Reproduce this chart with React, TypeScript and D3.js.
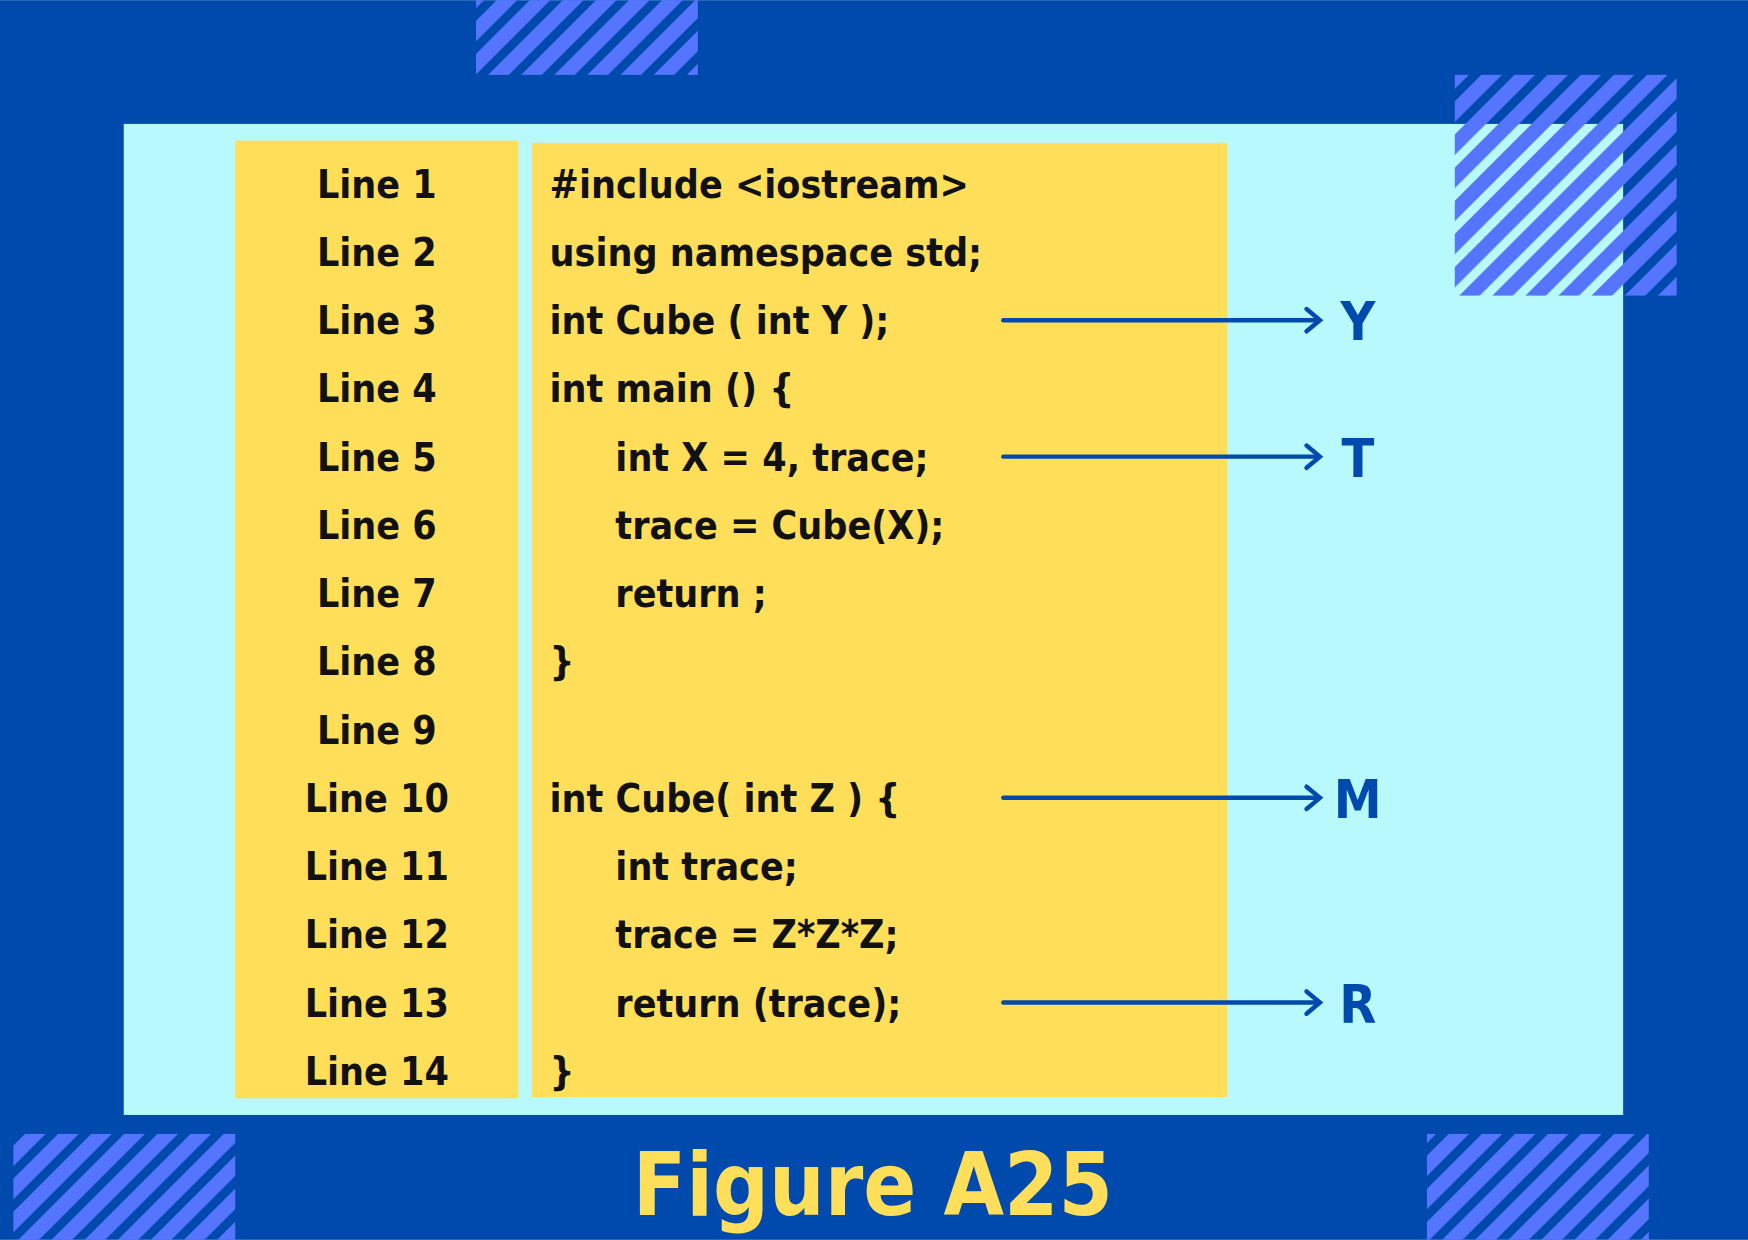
import { useEffect } from "react";
import * as d3 from "d3";

const lineLabels = d3.range(1, 15).map((i) => `Line ${i}`);
const codeLines = [
  "#include <iostream>",
  "using namespace std;",
  "int Cube ( int Y );",
  "int main () {",
  "int X = 4, trace;",
  "trace = Cube(X);",
  "return ;",
  "}",
  "",
  "int Cube( int Z ) {",
  "int trace;",
  "trace = Z*Z*Z;",
  "return (trace);",
  "}",
];
const indented = [false, false, false, false, true, true, true, false, false, false, true, true, true, false];
const arrowRows = [3, 5, 10, 13];
const arrowLabels = ["Y", "T", "M", "R"];

const stripeBoxes = [
  { x: 427, y: 0, h: 67 },
  { x: 1305, y: 67, h: 198 },
  { x: 12, y: 1017, h: 95 },
  { x: 1280, y: 1017, h: 95 },
];

const DARK = "#004aad";
const LIGHT = "#b8f9fd";
const YELLOW = "#ffde59";
const STRIPE = "#5575ff";
const FONT = "'DejaVu Sans Condensed', 'Liberation Sans Narrow', Roboto, sans-serif";

export default function App() {
  useEffect(() => {
    document.body.style.margin = "0";
  }, []);

  const y = d3.scaleBand<number>().domain(d3.range(1, 15)).range([134, 991]);
  const cy = (r: number) => (y(r) ?? 0) + y.bandwidth() / 2;

  return (
    <svg width={1748} height={1240} viewBox="0 0 1568 1112" style={{ display: "block" }}>
      <defs>
        <pattern id="stripes" width="21" height="21" patternUnits="userSpaceOnUse" patternTransform="rotate(45)">
          <rect width="13" height="21" fill={STRIPE} />
        </pattern>
      </defs>
      <rect width={1568} height={1112} fill={DARK} />
      <rect x={111} y={111} width={1345} height={889} fill={LIGHT} />
      {stripeBoxes.map((b, i) => (
        <rect key={i} x={b.x} y={b.y} width={199} height={b.h} fill="url(#stripes)" />
      ))}
      <rect x={211} y={126} width={254} height={859} fill={YELLOW} />
      <rect x={477} y={128} width={624} height={856} fill={YELLOW} />
      <g fontFamily={FONT} fontWeight="bold" fontSize={35} fill="#111">
        {lineLabels.map((l, i) => (
          <text key={l} x={338} y={cy(i + 1)} dy="0.36em" textAnchor="middle">{l}</text>
        ))}
        {codeLines.map((c, i) => (
          <text key={i} x={indented[i] ? 552 : 493} y={cy(i + 1)} dy="0.36em">{c}</text>
        ))}
      </g>
      {arrowRows.map((r, i) => (
        <g key={r} stroke={DARK} strokeWidth={4} fill="none" strokeLinecap="round">
          <line x1={900} x2={1183} y1={cy(r)} y2={cy(r)} />
          <path d={`M1172,${cy(r) - 10} L1184,${cy(r)} L1172,${cy(r) + 10}`} />
          <text x={1218} y={cy(r)} dy="0.38em" textAnchor="middle" stroke="none" fill={DARK}
            fontFamily={FONT} fontWeight="bold" fontSize={48}>{arrowLabels[i]}</text>
        </g>
      ))}
      <text x={783} y={1090} textAnchor="middle" fill={YELLOW} fontFamily={FONT} fontWeight="bold" fontSize={78}>
        Figure A25
      </text>
    </svg>
  );
}
